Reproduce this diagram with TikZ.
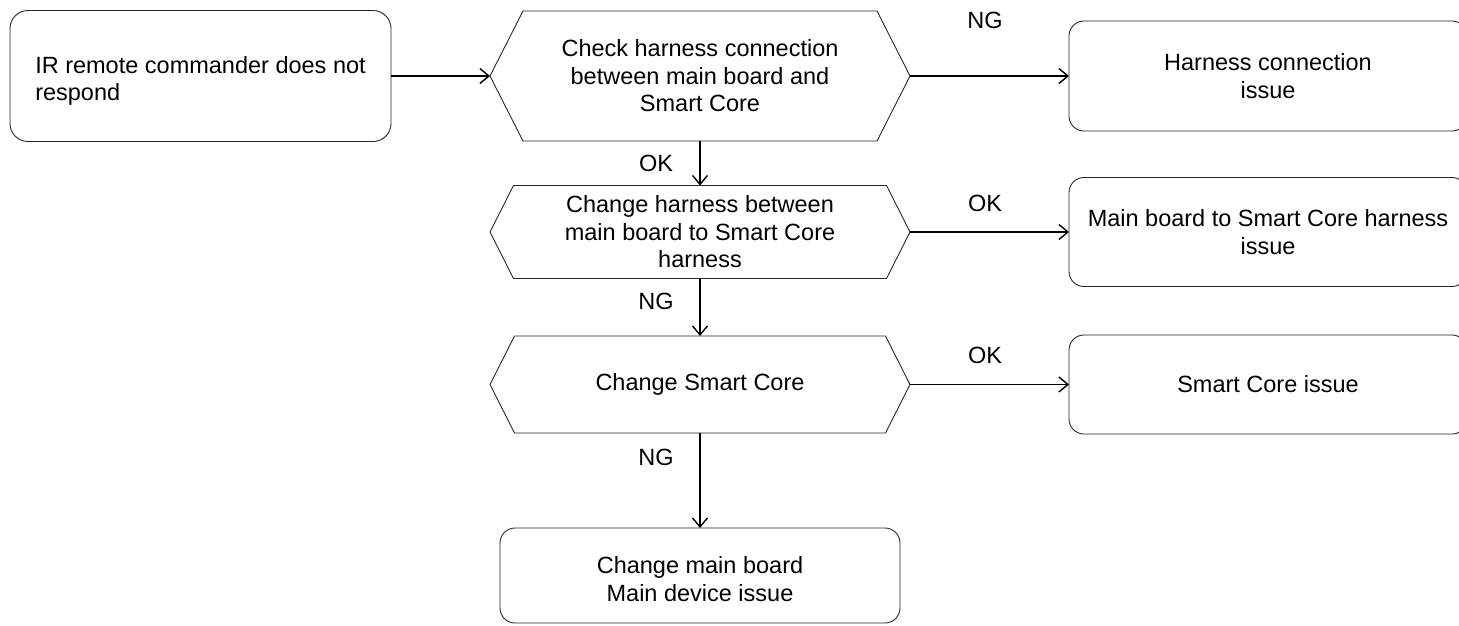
\documentclass[tikz,border=0pt]{standalone}
\usepackage{fontspec}
\setmainfont{Liberation Sans}
\usetikzlibrary{arrows.meta}
\begin{document}
\begin{tikzpicture}[x=1pt,y=-1pt,
  every node/.style={font=\fontsize{23.5}{27.5}\selectfont, inner sep=0pt, outer sep=0pt},
  rbox/.style={draw=black!85, line width=0.9pt, rounded corners=15pt, align=center},
  hexbox/.style={align=center, minimum width=420pt},
  lbl/.style={},
  arr/.style={line width=1.4pt, -{Straight Barb[length=9pt,width=15pt,line width=1.4pt]}},
  hexline/.style={draw=black!85, line width=0.9pt, line join=miter}
]
\useasboundingbox (0,0) rectangle (1459,625);

% start box
\node[rbox, rounded corners=18pt, minimum width=381pt, minimum height=131pt, align=left] (start) at (200.5,76) {\rule{0pt}{27pt}IR remote commander does not\\respond};

% decision hexagons (nodes carry the text; outline drawn from anchors)
\node[hexbox, minimum height=130pt] (h1) at (700,76) {Check harness connection\\between main board and\\Smart Core};
\node[hexbox, minimum height=93pt] (h2) at (700,232) {Change harness between\\main board to Smart Core\\harness};
\node[hexbox, minimum height=97pt] (h3) at (700,384.5) {Change Smart Core};

\draw[hexline] ([xshift=33pt]h1.north west) -- ([xshift=-33pt]h1.north east) -- (h1.east) -- ([xshift=-33pt]h1.south east) -- ([xshift=33pt]h1.south west) -- (h1.west) -- cycle;
\draw[hexline] ([xshift=23.5pt]h2.north west) -- ([xshift=-23.5pt]h2.north east) -- (h2.east) -- ([xshift=-23.5pt]h2.south east) -- ([xshift=23.5pt]h2.south west) -- (h2.west) -- cycle;
\draw[hexline] ([xshift=24.5pt]h3.north west) -- ([xshift=-24.5pt]h3.north east) -- (h3.east) -- ([xshift=-24.5pt]h3.south east) -- ([xshift=24.5pt]h3.south west) -- (h3.west) -- cycle;

% result boxes
\node[rbox, minimum width=398pt, minimum height=110pt] (r1) at (1268,76) {Harness connection\\issue};
\node[rbox, minimum width=398pt, minimum height=109pt] (r2) at (1268,232) {Main board to Smart Core harness\\issue};
\node[rbox, minimum width=398pt, minimum height=99pt] (r3) at (1268,384.5) {Smart Core issue};
\node[rbox, minimum width=400pt, minimum height=95pt] (bot) at (700,575.5) {\rule{0pt}{24pt}Change main board\\Main device issue};

% connectors
\draw[arr] (start.east) -- (h1.west);
\draw[arr] (h1.east) -- (r1.west);
\draw[arr] (h2.east) -- (r2.west);
\draw[arr] (h3.east) -- (r3.west);
\draw[arr] (h1.south) -- (h2.north);
\draw[arr] (h2.south) -- (h3.north);
\draw[arr] (h3.south) -- (bot.north);

% labels
\node[lbl] (l1) at (985,20) {NG};
\node[lbl] (l2) at (985,203) {OK};
\node[lbl] (l3) at (985,355) {OK};
\node[lbl] (l4) at (656,163) {OK};
\node[lbl] (l5) at (656,301) {NG};
\node[lbl] (l6) at (656,457) {NG};
\end{tikzpicture}
\end{document}
